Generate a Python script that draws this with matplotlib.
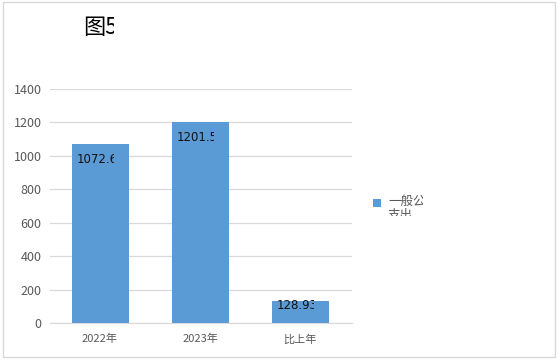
import matplotlib
matplotlib.use("Agg")
import matplotlib.pyplot as plt
from matplotlib.transforms import Bbox, TransformedBbox
from matplotlib.patches import Rectangle

plt.rcParams['font.family'] = ['Noto Sans CJK SC', 'DejaVu Sans']

categories = ['2022年', '2023年', '比上年']
values = [1072.6, 1201.5, 128.9]
labels = ['1072.6', '1201.5', '128.93']
yticks = [0, 200, 400, 600, 800, 1000, 1200, 1400]
series_name = '一般公共预算\n支出'
title = '图5'

W, H = 559, 362
fig = plt.figure(figsize=(W / 100, H / 100), dpi=100)


def px_box(x0, y0, x1, y1):
    # pixel box (top-left origin) -> clip box in display coords
    return TransformedBbox(Bbox([[x0 / W, 1 - y1 / H], [x1 / W, 1 - y0 / H]]), fig.transFigure)


# outer frame
fig.patches.append(Rectangle((3 / W, 5 / H), 552 / W, 355 / H, transform=fig.transFigure,
                             fill=False, edgecolor='#d9d9d9', linewidth=1))

ax = fig.add_axes([50 / W, 1 - 323 / H, 302 / W, 234 / H])
x = range(len(categories))
ax.bar(x, values, width=0.57, color='#5b9bd5', zorder=2)
ax.set_xlim(-0.5, 2.52)
ax.set_ylim(0, 1400)
ax.set_yticks(yticks)
ax.set_xticks(list(x))
ax.set_xticklabels(categories)
ax.grid(axis='y', color='#d9d9d9', linewidth=0.9, zorder=0)
for s in ['top', 'right', 'left']:
    ax.spines[s].set_visible(False)
ax.spines['bottom'].set_color('#d9d9d9')
ax.tick_params(length=0, colors='#595959', labelsize=8)
ax.tick_params(axis='y', labelsize=9, pad=6)
ax.tick_params(axis='x', pad=8)

# data labels, cut off like in the original
label_dy = [-11, -11, -3]
for i, (v, t) in enumerate(zip(values, labels)):
    txt = ax.annotate(t, (i - 0.235, v), xytext=(0, label_dy[i]), textcoords='offset points',
                      ha='left', va='center', fontsize=8.5, color='#111111', zorder=3,
                      family=['DejaVu Sans'])
    x0 = 77 + 100 * i
    txt.set_clip_on(True)
    txt.set_clip_box(px_box(x0 - 2, 0, x0 + 37, H))

# title, clipped
tt = fig.text(83 / W, 1 - 27 / H, title, fontsize=16, va='center', ha='left', color='#000000')
tt.set_clip_on(True)
tt.set_clip_box(px_box(70, 0, 114, 60))

# legend, clipped
fig.patches.append(Rectangle((373 / W, 1 - 207 / H), 8 / W, 8 / H, transform=fig.transFigure,
                             facecolor='#5b9bd5', edgecolor='none'))
lt = fig.text(388 / W, 1 - 195 / H, series_name, fontsize=9, va='top', ha='left',
              color='#595959', linespacing=1.15)
lt.set_clip_on(True)
lt.set_clip_box(px_box(385, 185, 423, 216))

fig.savefig('out.png', dpi=100)
